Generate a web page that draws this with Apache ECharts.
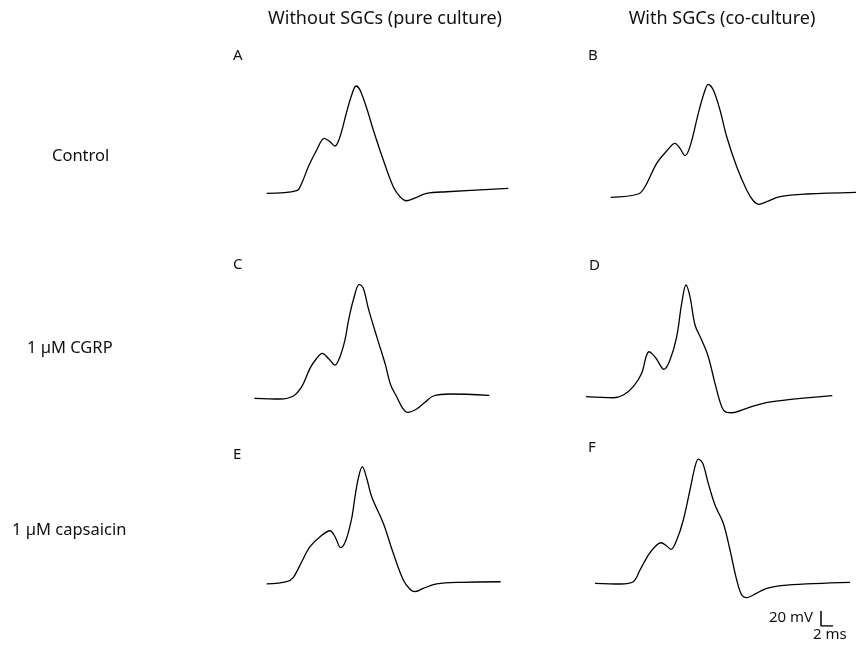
<!DOCTYPE html>
<html><head><meta charset="utf-8">
<script src="https://cdn.jsdelivr.net/npm/echarts@6/dist/echarts.min.js"></script>
<style>html,body{margin:0;padding:0;background:#fff}#c{width:856px;height:645px}</style>
</head><body><div id="c"></div>
<script>
// ---- labels ----
const columnTitles = ['Without SGCs (pure culture)', 'With SGCs (co-culture)'];
const rowTitles = ['Control', '1 µM CGRP', '1 µM capsaicin'];
const panelLabels = ['A', 'B', 'C', 'D', 'E', 'F'];
const scaleBarLabels = ['20 mV', '2 ms'];

// ---- traces: time (ms) and membrane potential (mV) ----
const timeA = [2.78,7.78,8.62,9.72,11.12,12.38,13.33,14.17,15,16.12,16.95,17.67,18.33,19.45,20.55,22.22,23.88,25,26.12,27.78,29.45,32.78,43.05];
const vmA   = [-65.1,-61.6,-51.7,-29.6,-7.3,8.3,3.7,-2,10.4,43.7,66,78,72.7,48.3,19.3,-20.7,-56.3,-69.6,-75,-70.4,-65.1,-63,-58.4];

const timeB = [5.12,9.72,10.83,12.78,14.45,15.83,16.67,17.5,18.33,19.72,20.67,21.38,22.22,23.33,24.45,26.12,27.78,28.88,29.83,31.12,33.33,37.78,46];
const vmB   = [-70.4,-66,-56.3,-25.1,-8.7,1.6,-5.1,-14.9,-2.9,41.6,68.3,80.3,72.7,46,10.4,-29.6,-60.7,-75,-79.7,-76.3,-69.6,-66,-63.7];

const timeC = [0.72,5,7.22,8.62,10,11.12,12.05,13.05,14.17,15,15.83,16.38,17.22,18.22,18.88,19.72,21.12,22.5,23.45,24.45,25.45,26.28,27.78,29.17,30.55,33.33,39.88];
const vmC   = [-65.1,-66,-62,-49.6,-25.1,-11.7,-5.1,-11.7,-20.7,-9.6,12.7,37.1,66,86.9,81.6,54.9,17.1,-18.4,-47.3,-62.9,-78.4,-83.7,-79.3,-70.4,-62,-59.3,-61.1];

const timeD = [1,5.55,7.22,8.88,10.28,11,11.5,12,12.7,14,15,16.12,16.95,17.67,18.33,19.17,20.28,21.38,22.5,23.62,24.45,25.28,27.78,30.55,34.45,42.05];
const vmD   = [-62.9,-64.3,-60.7,-49.6,-31.7,-10,-3,-5.5,-12,-26.4,-14,17.1,61.6,86,70.4,32.7,12.7,-9.6,-45.1,-76.3,-83.7,-84.3,-78.4,-71.7,-67.3,-61.6];

const timeE = [2.78,6.12,7.22,8.62,10,11.67,13.33,14.17,15.12,16,16.95,17.5,18.05,18.72,19.45,20.28,22.22,23.88,25.55,26.67,27.5,28.88,31.12,35,41.78];
const vmE   = [-65.3,-62.3,-56.4,-35.6,-15.6,-2.3,5.7,-2.3,-16.9,-6.7,22.3,51.1,75.6,91.1,75.6,51.1,15.6,-24.4,-60,-72.4,-75.6,-71.1,-65.3,-63.1,-62.3];

const timeF = [2.5,6.67,8.88,10,11.38,12.5,13.5,14.45,15.17,16.12,17.22,18.33,19.17,19.72,20.45,21.38,22.5,23.88,25,26.12,26.95,27.78,28.88,31.12,34.45,45];
const vmF   = [-64.4,-65.3,-62.3,-46.7,-26.7,-15.6,-10.3,-14.7,-19.1,-6.7,20,60,91.1,101.3,95.6,68.9,40,15.6,-20,-60,-80,-83.6,-80,-71.1,-66.7,-63.1];

// scale bar: 20 mV vertical, 2 ms horizontal
const scaleBarTime = [1, 1, 3];
const scaleBarVm   = [20, 0, 0];

const traces = [[timeA, vmA], [timeB, vmB], [timeC, vmC], [timeD, vmD], [timeE, vmE], [timeF, vmF]];

// ---- layout ----
const colLeft = [250, 580];
const colWidth = [270, 276];
const colMaxT = [45, 46];
const rowTop = [62, 267, 452.5];
const rowHeight = 157.5;
const vMin = -100, vMax = 110;

const grids = [], xAxes = [], yAxes = [], series = [], titles = [];
const font = 'Noto Sans';

traces.forEach((tr, i) => {
  const r = Math.floor(i / 2), c = i % 2;
  grids.push({ left: colLeft[c], top: rowTop[r], width: colWidth[c], height: rowHeight });
  xAxes.push({ type: 'value', gridIndex: i, min: 0, max: colMaxT[c], show: false });
  yAxes.push({ type: 'value', gridIndex: i, min: vMin, max: vMax, show: false });
  series.push({
    type: 'line', xAxisIndex: i, yAxisIndex: i, showSymbol: false, smooth: 0.35,
    lineStyle: { color: '#000', width: 1.3 }, silent: true,
    data: tr[0].map((t, k) => [t, tr[1][k]])
  });
});
// scale bar grid
grids.push({ left: 815, top: 596, width: 24, height: 30 });
xAxes.push({ type: 'value', gridIndex: 6, min: 0, max: 4, show: false });
yAxes.push({ type: 'value', gridIndex: 6, min: 0, max: 40, show: false });
series.push({
  type: 'line', xAxisIndex: 6, yAxisIndex: 6, showSymbol: false, silent: true,
  lineStyle: { color: '#000', width: 1.5 },
  data: scaleBarTime.map((t, k) => [t, scaleBarVm[k]])
});

// texts
const colTitleX = [385, 722];
columnTitles.forEach((t, c) => titles.push({ text: t, left: colTitleX[c], top: 10, textAlign: 'center',
  textStyle: { fontFamily: font, fontSize: 18, fontWeight: 'normal', color: '#111' } }));
const rowTitleX = [52, 27, 12];
const rowTitleY = [148, 340, 522];
rowTitles.forEach((t, r) => titles.push({ text: t, left: rowTitleX[r], top: rowTitleY[r],
  textStyle: { fontFamily: font, fontSize: 16.5, fontWeight: 'normal', color: '#111' } }));
const panelPos = [[233, 48], [588, 48], [233, 257], [589, 258], [233, 447], [588, 440]];
panelLabels.forEach((t, i) => titles.push({ text: t, left: panelPos[i][0], top: panelPos[i][1],
  textStyle: { fontFamily: font, fontSize: 15, fontWeight: 'normal', color: '#111' } }));
titles.push({ text: scaleBarLabels[0], right: 856 - 813, top: 610,
  textStyle: { fontFamily: font, fontSize: 15, fontWeight: 'normal', color: '#111' } });
titles.push({ text: scaleBarLabels[1], left: 813, top: 627,
  textStyle: { fontFamily: font, fontSize: 15, fontWeight: 'normal', color: '#111' } });

const chart = echarts.init(document.getElementById('c'), null, { renderer: 'canvas' });
chart.setOption({
  backgroundColor: '#fff',
  animation: false,
  title: titles.map(t => Object.assign({ padding: 0 }, t)),
  grid: grids, xAxis: xAxes, yAxis: yAxes, series: series
});
</script></body></html>
